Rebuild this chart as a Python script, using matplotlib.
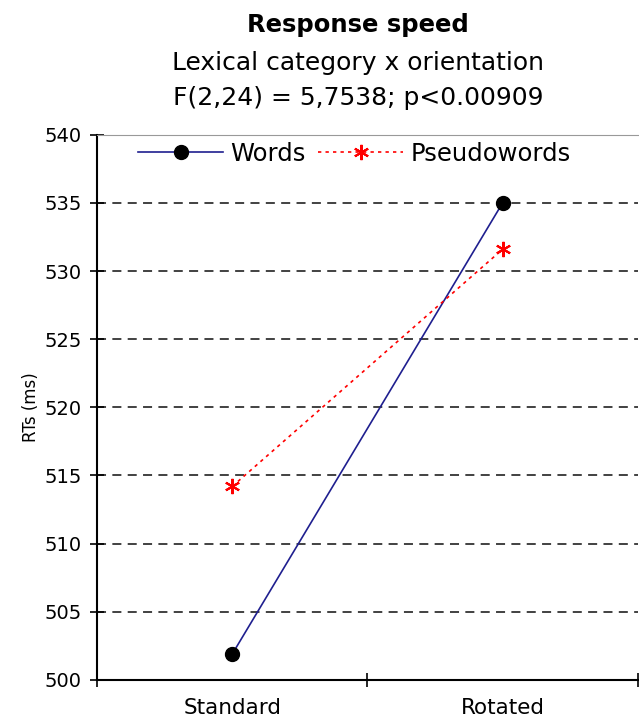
import numpy as np
import matplotlib.pyplot as plt

categories = ["Standard", "Rotated"]
words = [501.9, 535.0]
pseudowords = [514.2, 531.6]
yticks = [500, 505, 510, 515, 520, 525, 530, 535, 540]

fig = plt.figure(figsize=(6.39, 7.21), dpi=100)
ax = fig.add_axes([0.152, 0.057, 0.846, 0.756])

x = np.arange(len(categories))
ax.plot(x, words, color="#1f1f8f", lw=1.2, marker="o", ms=10,
        mfc="black", mec="black", label="Words", zorder=3)
ax.plot(x, pseudowords, color="red", lw=1.2, ls=(0, (2, 2.5)), marker=(6, 2, 0), ms=11,
        mew=1.5, mec="red", label="Pseudowords", zorder=3)

ax.set_xlim(-0.5, 1.5)
ax.set_ylim(500, 540)
ax.set_yticks(yticks)
ax.tick_params(axis="y", direction="inout", length=10, width=1.2, labelsize=14, pad=6)
ax.set_xticks([-0.5, 0.5, 1.5])
ax.set_xticklabels([])
ax.set_xticks(x, minor=True)
ax.set_xticklabels(categories, minor=True, fontsize=15.5)
ax.tick_params(axis="x", which="major", direction="inout", length=10, width=1.2)
ax.tick_params(axis="x", which="minor", length=0, pad=13)

for v in yticks[1:-1]:
    ax.axhline(v, color="#333333", ls=(0, (5, 3.5)), lw=1.3, zorder=1)

ax.spines["left"].set_linewidth(1.5)
ax.spines["bottom"].set_linewidth(1.5)
ax.spines["top"].set_color("#999999")
ax.spines["right"].set_visible(False)

ax.set_ylabel("RTs (ms)", fontsize=12, labelpad=3)

leg = ax.legend(loc="upper left", ncol=2, frameon=False, fontsize=17.5,
                handlelength=3.5, columnspacing=0.5, handletextpad=0.3,
                borderaxespad=0.0, bbox_to_anchor=(0.058, 1.005))

fig.text(0.56, 0.966, "Response speed", ha="center", va="center",
         fontsize=17.5, fontweight="bold")
fig.text(0.56, 0.913, "Lexical category x orientation", ha="center", va="center",
         fontsize=18)
fig.text(0.56, 0.864, "F(2,24) = 5,7538; p<0.00909", ha="center", va="center",
         fontsize=18)

fig.savefig("out.png", dpi=100)
